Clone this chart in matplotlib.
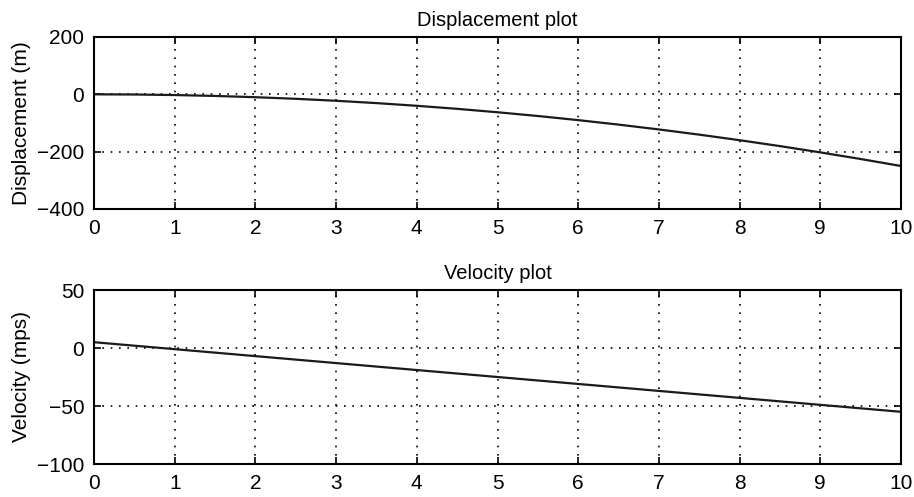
import matplotlib
matplotlib.use("Agg")
import matplotlib.pyplot as plt

t_disp = [0, 0.5, 1, 1.5, 2, 2.5, 3, 3.5, 4, 4.5, 5, 5.5, 6, 6.5, 7, 7.5, 8, 8.5, 9, 9.5, 10]
displacement = [0, -0.6, -2.5, -5.6, -10, -15.6, -22.5, -30.6, -40, -50.6, -62.5, -75.6, -90,
                -105.6, -122.5, -140.6, -160, -180.6, -202.5, -225.6, -250]
t_vel = [0, 1, 2, 3, 4, 5, 6, 7, 8, 9, 10]
velocity = [5, -1, -7, -13, -19, -25, -31, -37, -43, -49, -55]

x_ticks = list(range(0, 11))
disp_ticks = [-400, -200, 0, 200]
vel_ticks = [-100, -50, 0, 50]

plt.rcParams['font.family'] = ['Liberation Sans', 'DejaVu Sans']
fig = plt.figure(figsize=(9.14, 4.97), dpi=100)
W, H = 914, 497
ax1 = fig.add_axes([94 / W, 1 - 209 / H, (901 - 94) / W, (209 - 37) / H])
ax2 = fig.add_axes([94 / W, 1 - 464 / H, (901 - 94) / W, (464 - 290) / H])

for ax, x, y, yt, title, ylabel in [
    (ax1, t_disp, displacement, disp_ticks, 'Displacement plot', 'Displacement (m)'),
    (ax2, t_vel, velocity, vel_ticks, 'Velocity plot', 'Velocity (mps)'),
]:
    ax.plot(x, y, color='#1a1a1a', lw=1.6)
    ax.set_xlim(0, 10)
    ax.set_ylim(yt[0], yt[-1])
    ax.set_xticks(x_ticks)
    ax.set_yticks(yt)
    ax.grid(True, color='black', linestyle=(0, (1, 4)), lw=1.2)
    ax.tick_params(direction='in', top=True, right=True, labelsize=15, length=5, width=1.2)
    ax.tick_params(axis='x', pad=7)
    ax.tick_params(axis='y', pad=7)
    for s in ax.spines.values():
        s.set_linewidth(1.5)
    ax.set_title(title, fontsize=14.5, pad=8)
    ax.set_ylabel(ylabel, fontsize=15, labelpad=4)

fig.savefig('out.png', dpi=100)
